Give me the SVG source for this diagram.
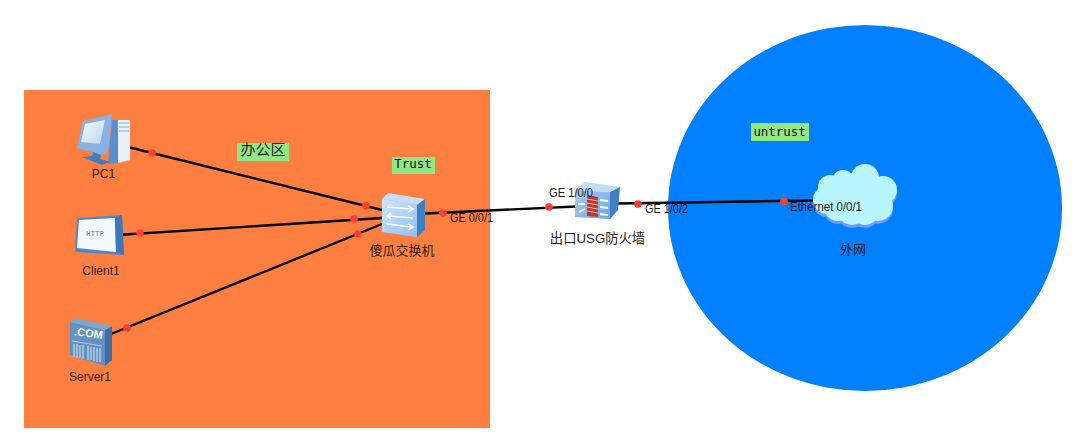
<svg xmlns="http://www.w3.org/2000/svg" width="1080" height="447" viewBox="0 0 1080 447">
<style>
.lbl{font-family:"Liberation Sans","Noto Sans CJK SC",sans-serif;font-size:12px;fill:#1a1a1a}
.cn{font-family:"Liberation Sans","Noto Sans CJK SC",sans-serif;font-size:13px;fill:#2a2320;text-anchor:middle}
.en{font-size:12px}
.mono{font-family:"DejaVu Sans Mono","Liberation Mono",monospace;font-size:12.4px;fill:#111;text-anchor:middle}
.wire{stroke:#000;stroke-width:2.4;fill:none}
.dot{fill:#ff4030}
.tag{fill:#90e884}
</style>
<defs>
<linearGradient id="sw" x1="0" y1="0" x2="1" y2="1"><stop offset="0" stop-color="#cfe6fd"/><stop offset="1" stop-color="#8fc0f2"/></linearGradient>
<linearGradient id="fw" x1="0" y1="0" x2="1" y2="1"><stop offset="0" stop-color="#a8cdf3"/><stop offset="1" stop-color="#6ea5e2"/></linearGradient>
<linearGradient id="scr" x1="0" y1="0" x2="1" y2="1"><stop offset="0" stop-color="#f6fbff"/><stop offset="1" stop-color="#bcd6f2"/></linearGradient>
<g id="cloudshape">
<circle cx="830" cy="187" r="12"/><circle cx="843" cy="181" r="11"/><circle cx="865" cy="178" r="14"/><circle cx="883" cy="190" r="14"/>
<circle cx="878" cy="206" r="15"/><circle cx="852" cy="210" r="15"/><circle cx="827" cy="200" r="14"/><circle cx="865" cy="210" r="15"/><circle cx="838" cy="207" r="14"/><circle cx="855" cy="195" r="22"/>
</g>
</defs>
<g id="zones">
<rect x="24" y="90" width="466" height="338" fill="#ff7f41"/>
<ellipse cx="865" cy="208" rx="197" ry="183" fill="#0080ff"/>
</g>
<g id="connectors">
<path class="wire" d="M130 147.500L382 210"/>
<path class="wire" d="M117 235L382 218"/>
<path class="wire" d="M111 334L382 224"/>
<path class="wire" d="M425 213.500L576 206.500"/>
<path class="wire" d="M618 203.500L815 200.500"/>
<circle class="dot" cx="152" cy="153" r="3.800"/>
<circle class="dot" cx="366" cy="206" r="3.800"/>
<circle class="dot" cx="140" cy="233" r="3.800"/>
<circle class="dot" cx="354" cy="219" r="3.800"/>
<circle class="dot" cx="127" cy="328" r="3.800"/>
<circle class="dot" cx="358" cy="234" r="3.800"/>
<circle class="dot" cx="443" cy="213" r="3.800"/>
<circle class="dot" cx="549" cy="207" r="3.800"/>
<circle class="dot" cx="638" cy="204" r="3.800"/>
<circle class="dot" cx="784" cy="201.500" r="3.800"/>
</g>
<g id="pc1">
<path d="M112 120L118 120L118 163L108 164Z" fill="#5a8fcf"/>
<path d="M118 120L130 120L130 160L118 163Z" fill="#e9f2fb"/>
<path d="M119 123H129M119 127H129M119 131H129" stroke="#86aedb" stroke-width="1.2"/>
<path d="M83 121L112 114L108 152L102 155L77 148Z" fill="#86b2e4"/>
<path d="M85 124L105 120L100 144L81 142Z" fill="url(#scr)"/>
<path d="M93 152L101 155L100 159L110 162L102 165L82 157L92 156Z" fill="#3f7cc0"/>
<text class="cn en" x="103.500" y="178">PC1</text>
</g>
<g id="client1">
<path d="M77 218L122 215L124 255L75 252Z" fill="#4f86c8"/>
<path d="M79 220L115 218L116 252L77 248Z" fill="#f2f9ff"/>
<path d="M115 218L122 215L124 255L116 252Z" fill="#3f76ba"/>
<text x="95" y="236" text-anchor="middle" style="font-family:'Liberation Mono',monospace;font-size:7.500px;font-weight:700;fill:#7f9fca">HTTP</text>
<text class="cn en" x="101" y="275">Client1</text>
</g>
<g id="server1">
<path d="M70 322L105 330L105 366L70 355Z" fill="#6291c2"/>
<path d="M105 330L112 326L112 360L105 366Z" fill="#3f6d9e"/>
<path d="M70 322L76 318L112 326L105 330Z" fill="#7ea6ce"/>
<text x="88" y="337" text-anchor="middle" transform="rotate(7 88 337)" style="font-family:'Liberation Sans',sans-serif;font-size:11px;font-weight:700;fill:#fff">.COM</text>
<path d="M74 344V357M77 344V358M80 345V358M83 345V359M88 346V360M91 347V360M94 347V361M97 348V362M100 348V362" stroke="#c7d9ea" stroke-width="1.200"/>
<path d="M72 341L102 346" stroke="#c7d9ea" stroke-width="0.800"/>
<text class="cn en" x="90" y="381">Server1</text>
</g>
<g id="switch">
<path d="M382 199L417 205L417 237L382 232Z" fill="url(#sw)"/>
<path d="M382 199L388 193L425 199L417 205Z" fill="#c6def8"/>
<path d="M417 205L425 199L425 230L417 237Z" fill="#3f7fc4"/>
<path d="M387 207L411 209M408 206L413 209L408 212M413 218L388 216M391 213L387 216L391 219M387 224L411 227M408 224L413 227L408 230" stroke="#fff" stroke-width="1.700" fill="none"/>
<text class="cn" x="402" y="254.500">傻瓜交换机</text>
</g>
<g id="firewall">
<path d="M575 190L610 192L610 219L575 217Z" fill="url(#fw)"/>
<path d="M575 190L585 182L620 187L610 192Z" fill="#c2dcf8"/>
<path d="M610 192L620 187L618 210L610 219Z" fill="#3f7fc4"/>
<path d="M587 195L598 197L598 217L587 216Z" fill="#c0392b"/>
<path d="M587 199L598 201M587 203L598 205M587 207L598 209M587 211L598 213" stroke="#f3c9c0" stroke-width="0.900"/>
<path d="M578 204L585 204M600 200L608 201M600 207L608 208M600 214L608 215M579 212L585 209" stroke="#fff" stroke-width="1.800"/>
<text class="cn" x="597.500" y="242.500" style="font-size:13.300px">出口USG防火墙</text>
</g>
<g id="cloud">
<use href="#cloudshape" fill="#6a9cff" transform="translate(0 3)"/>
<use href="#cloudshape" fill="#b8f6ff"/>
<text class="cn" x="853" y="254">外网</text>
</g>
<g id="labels">
<rect class="tag" x="237" y="143" width="52" height="18"/>
<text class="cn" x="263" y="155" style="font-size:15px">办公区</text>
<rect class="tag" x="392" y="157" width="43" height="17"/>
<text class="mono" x="413" y="168">Trust</text>
<rect class="tag" x="751" y="123" width="58" height="18"/>
<text class="mono" x="779.500" y="136">untrust</text>
<text class="lbl" x="450" y="222" textLength="43" lengthAdjust="spacingAndGlyphs">GE 0/0/1</text>
<text class="lbl" x="549" y="197" textLength="44" lengthAdjust="spacingAndGlyphs">GE 1/0/0</text>
<text class="lbl" x="645" y="213" textLength="43" lengthAdjust="spacingAndGlyphs">GE 1/0/2</text>
<text class="lbl" x="790" y="211" textLength="72" lengthAdjust="spacingAndGlyphs">Ethernet 0/0/1</text>
</g>
</svg>
